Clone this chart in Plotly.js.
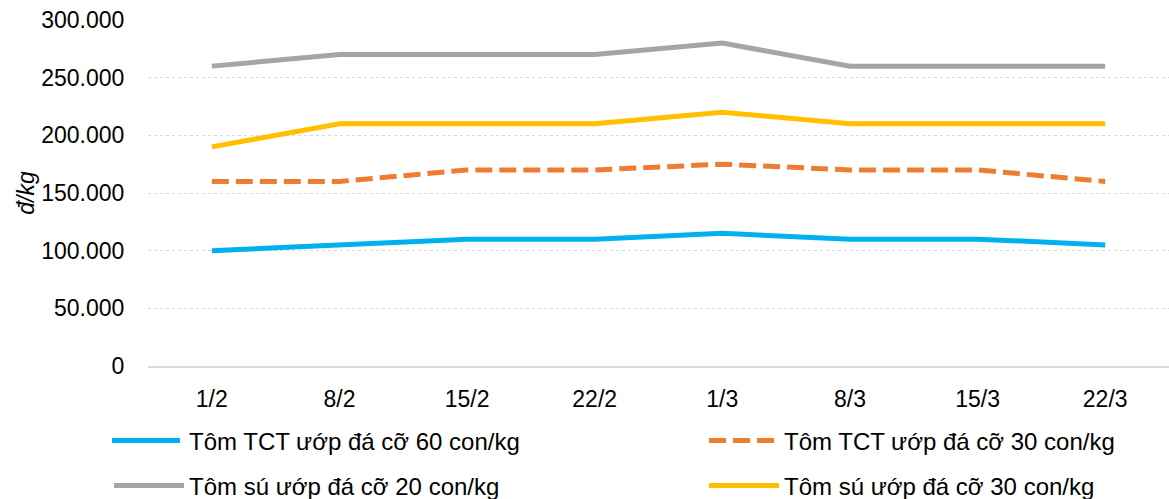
<!DOCTYPE html>
<html><head><meta charset="utf-8">
<script src="https://cdn.plot.ly/plotly-3.0.1.min.js"></script>
<style>html,body{margin:0;padding:0;background:#fff}#chart{width:1169px;height:499px}</style>
</head><body><div id="chart"></div>
<script>
const categories = ["1/2","8/2","15/2","22/2","1/3","8/3","15/3","22/3"];
const tct60 = [100000,105000,110000,110000,115000,110000,110000,105000];
const tct30 = [160000,160000,170000,170000,175000,170000,170000,160000];
const su20  = [260000,270000,270000,270000,280000,260000,260000,260000];
const su30  = [190000,210000,210000,210000,220000,210000,210000,210000];
const seriesNames = ["Tôm TCT ướp đá cỡ 60 con/kg","Tôm TCT ướp đá cỡ 30 con/kg","Tôm sú ướp đá cỡ 20 con/kg","Tôm sú ướp đá cỡ 30 con/kg"];
const yTicks = [0,50000,100000,150000,200000,250000,300000];

const FONT = "Liberation Sans, Arial, sans-serif";
const FS = 23;
const traces = [
  {x:categories,y:tct60,name:seriesNames[0],mode:"lines",line:{color:"#00B0F0",width:5},legend:"legend"},
  {x:categories,y:tct30,name:seriesNames[1],mode:"lines",line:{color:"#ED7D31",width:5,dash:"17px,7px"},legend:"legend2"},
  {x:categories,y:su20,name:seriesNames[2],mode:"lines",line:{color:"#A5A5A5",width:5},legend:"legend3"},
  {x:categories,y:su30,name:seriesNames[3],mode:"lines",line:{color:"#FFC000",width:5},legend:"legend4"}
];
function leg(x,y){return {orientation:"h",x:x,xanchor:"left",y:y,yanchor:"middle",itemwidth:70,
  font:{family:FONT,size:24,color:"#000"},bgcolor:"rgba(0,0,0,0)",borderwidth:0};}
const r1 = (366-441)/346, r2 = (366-486)/346;
const c1 = (109-148)/1021, c2 = (704-148)/1021;
const layout = {
  width:1169,height:499,
  margin:{l:148,r:0,t:20,b:133,autoexpand:false},
  paper_bgcolor:"#fff",plot_bgcolor:"#fff",
  separators:",.",
  font:{family:FONT,size:FS,color:"#000"},
  showlegend:true,
  legend:leg(c1,r1), legend2:leg(c2,r1), legend3:leg(c1,r2), legend4:leg(c2,r2),
  xaxis:{type:"category",range:[-0.5,7.5],showgrid:false,showline:true,linecolor:"#d9d9d9",linewidth:1.5,
    ticks:"outside",ticklen:12,tickcolor:"rgba(0,0,0,0)",tickfont:{family:FONT,size:FS,color:"#000"},
    fixedrange:true},
  yaxis:{range:[0,300000],tickvals:yTicks,tickformat:",",showgrid:true,gridcolor:"#d9d9d9",griddash:"dot",gridwidth:1,
    zeroline:false,showline:false,ticks:"outside",ticklen:18,tickcolor:"rgba(0,0,0,0)",
    tickfont:{family:FONT,size:FS,color:"#000"},
    title:{text:"<i>đ/kg</i>",font:{family:FONT,size:FS,color:"#000"},standoff:0},fixedrange:true}
};
const gd = document.getElementById("chart");
function stretchLegendLines(){
  gd.querySelectorAll(".legend path.js-line").forEach(function(p){
    p.setAttribute("d","M3,0h68");
  });
}
Plotly.newPlot(gd,traces,layout,{staticPlot:true,displayModeBar:false}).then(function(){
  stretchLegendLines();
  gd.on("plotly_afterplot", stretchLegendLines);
});
</script></body></html>
